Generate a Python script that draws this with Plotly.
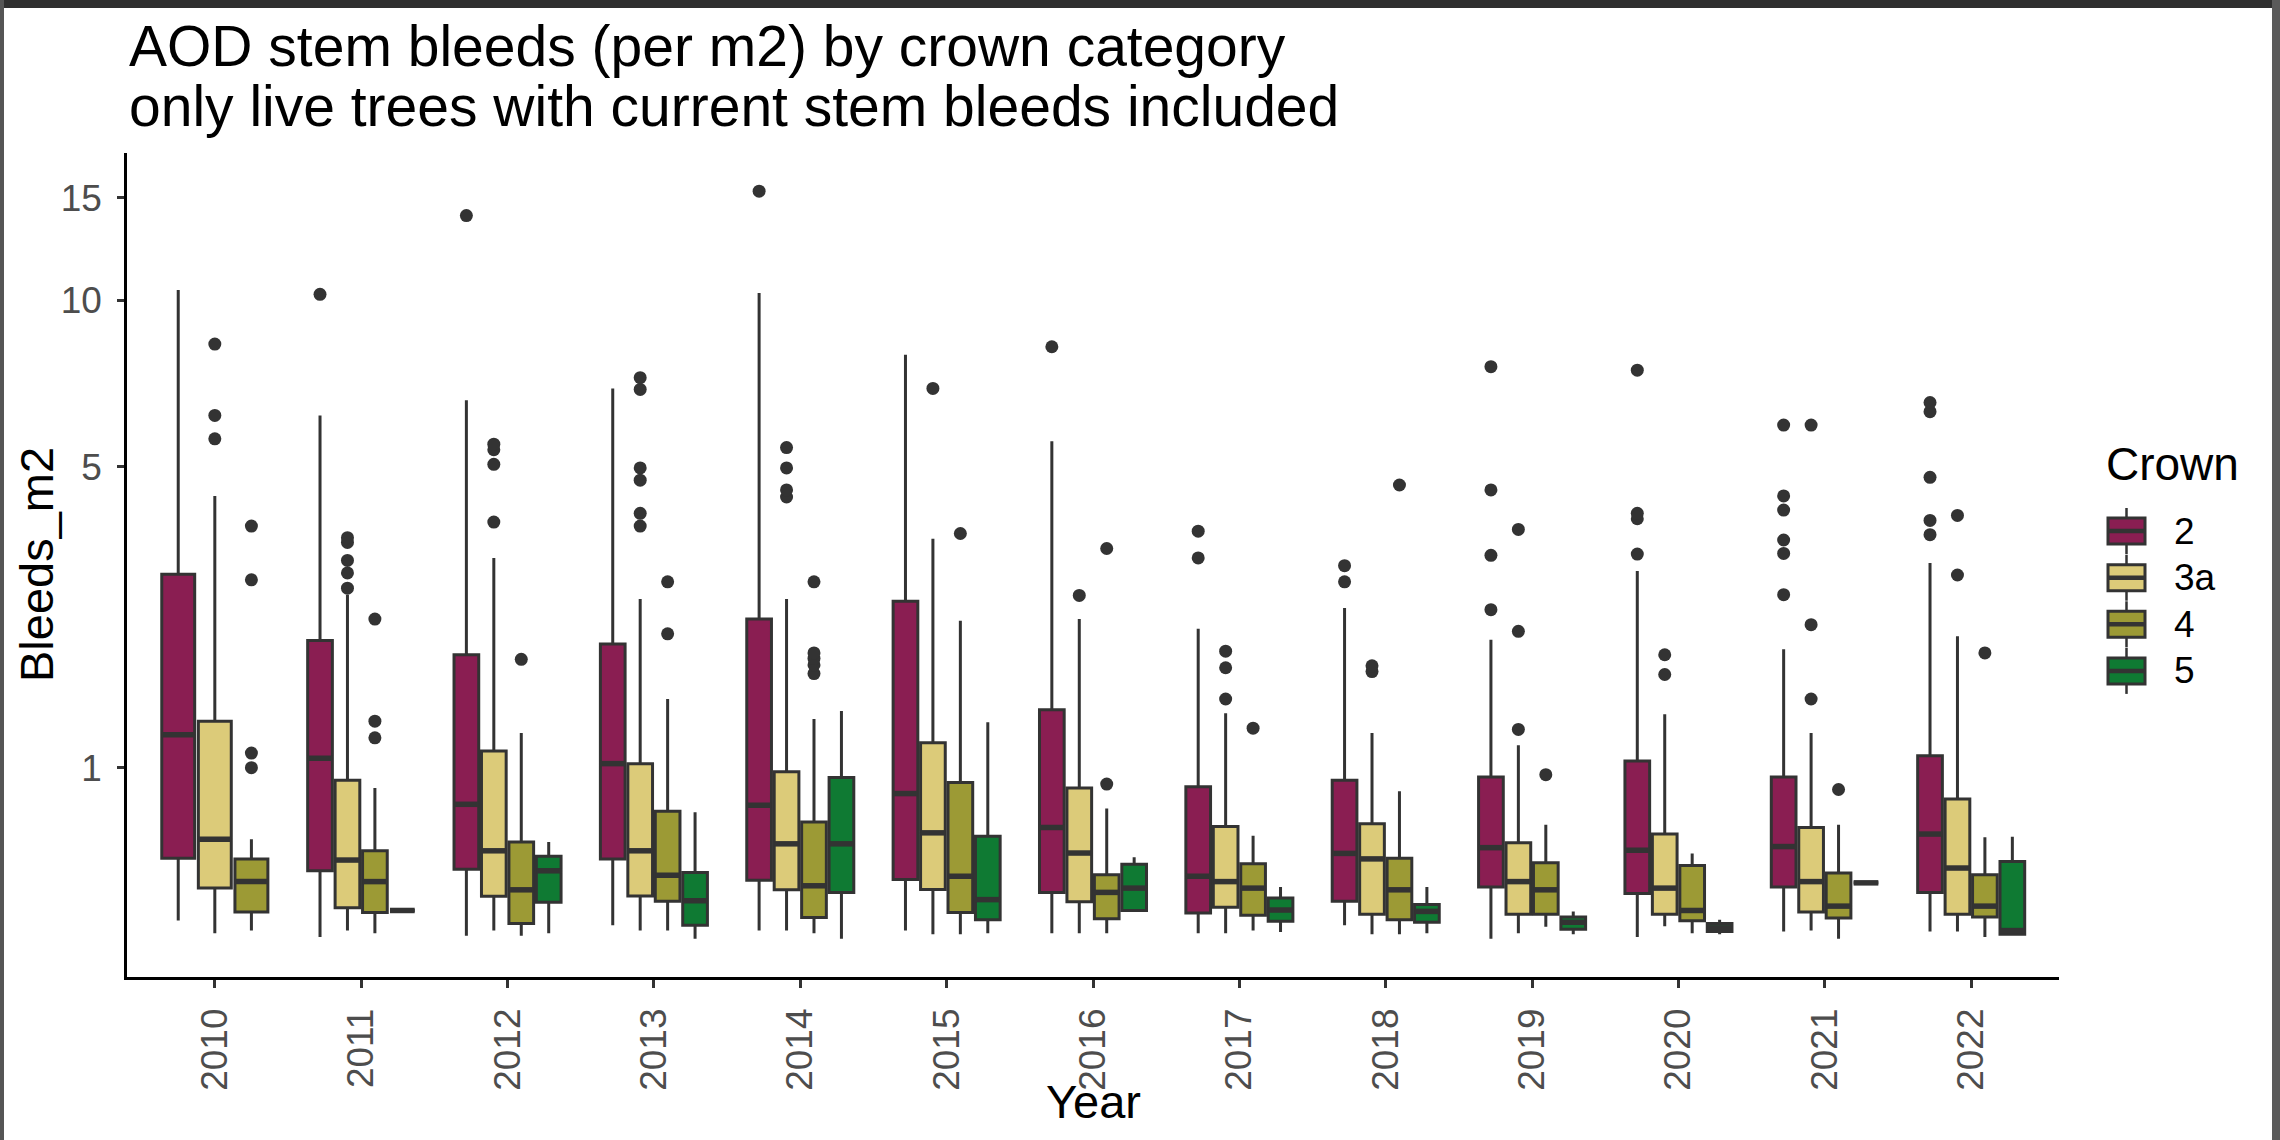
import numpy as np
import plotly.graph_objects as go

# ---------------- data (Bleeds per m2) ----------------
years = [2010, 2011, 2012, 2013, 2014, 2015, 2016, 2017, 2018, 2019, 2020, 2021, 2022]
crowns = ["2", "3a", "4", "5"]

# Crown 2
c2_low = [0.145, 0.078, 0.083, 0.126, 0.104, 0.104, 0.0935, 0.0935, 0.126, 0.072, 0.078, 0.10, 0.10]
c2_q1 = [0.437, 0.373, 0.381, 0.434, 0.327, 0.330, 0.269, 0.177, 0.229, 0.294, 0.264, 0.294, 0.269]
c2_med = [1.255, 1.07, 0.75, 1.03, 0.744, 0.82, 0.608, 0.346, 0.463, 0.494, 0.48, 0.50, 0.57]
c2_q3 = [3.05, 2.18, 2.02, 2.14, 2.44, 2.67, 1.47, 0.866, 0.91, 0.933, 1.05, 0.933, 1.09]
c2_up = [10.43, 6.23, 6.64, 6.98, 10.30, 8.02, 5.58, 2.32, 2.58, 2.19, 3.10, 2.08, 3.22]
c2_out = [[], [10.25], [13.99], [], [15.39], [], [8.29], [3.30, 3.74], [2.94, 3.18],
          [2.56, 3.34, 4.51, 7.64], [3.36, 3.96, 4.06, 7.53],
          [2.76, 3.37, 3.59, 4.12, 4.39, 5.98], [3.68, 3.93, 4.77, 6.33, 6.58]]

# Crown 3a
c3a_low = [0.0935, 0.104, 0.104, 0.104, 0.104, 0.089, 0.0935, 0.0935, 0.089, 0.0935, 0.122, 0.104, 0.10]
c3a_q1 = [0.289, 0.200, 0.251, 0.253, 0.281, 0.283, 0.226, 0.202, 0.172, 0.172, 0.172, 0.181, 0.172]
c3a_med = [0.54, 0.428, 0.477, 0.477, 0.515, 0.577, 0.465, 0.32, 0.434, 0.32, 0.289, 0.32, 0.387]
c3a_q3 = [1.37, 0.91, 1.125, 1.03, 0.97, 1.19, 0.858, 0.614, 0.63, 0.521, 0.57, 0.608, 0.785]
c3a_up = [4.39, 2.76, 3.30, 2.70, 2.70, 3.61, 2.44, 1.44, 1.27, 1.17, 1.43, 1.27, 2.23]
c3a_out = [[5.64, 6.23, 8.38], [2.85, 3.07, 3.26, 3.55, 3.63], [3.90, 5.05, 5.38, 5.51],
           [3.83, 4.06, 4.71, 4.97, 6.95, 7.30], [4.37, 4.51, 4.97, 5.43], [6.98], [2.75],
           [1.57, 1.88, 2.06], [1.84, 1.90], [1.30, 2.29, 3.77], [1.81, 2.02],
           [1.57, 2.37, 5.98], [3.04, 4.02]]

# Crown 4
c4_low = [0.104, 0.0935, 0.083, 0.104, 0.0935, 0.089, 0.0935, 0.104, 0.089, 0.12, 0.0935, 0.072, 0.078]
c4_q1 = [0.181, 0.179, 0.133, 0.229, 0.158, 0.179, 0.153, 0.167, 0.149, 0.172, 0.144, 0.156, 0.16]
c4_med = [0.32, 0.32, 0.281, 0.351, 0.30, 0.346, 0.269, 0.289, 0.281, 0.281, 0.188, 0.207, 0.207]
c4_q3 = [0.434, 0.477, 0.525, 0.706, 0.64, 0.895, 0.354, 0.409, 0.437, 0.414, 0.40, 0.362, 0.354]
c4_up = [0.54, 0.858, 1.27, 1.57, 1.39, 2.42, 0.724, 0.561, 0.836, 0.624, 0.463, 0.624, 0.552]
c4_out = [[1.00, 1.11, 2.97, 3.83], [1.23, 1.37, 2.44], [1.97], [2.26, 2.94],
          [1.82, 1.91, 1.98, 2.04, 2.94], [3.70], [0.884, 3.45], [1.31], [4.61], [0.95],
          [], [0.847], [2.04]]

# Crown 5 (no trees in 2010)
c5_low = [None, 0.188, 0.0935, 0.072, 0.072, 0.0935, 0.188, 0.098, 0.0935, 0.089, 0.089, 0.314, 0.089]
c5_q1 = [None, 0.188, 0.224, 0.126, 0.269, 0.149, 0.188, 0.142, 0.138, 0.109, 0.10, 0.314, 0.089]
c5_med = [None, 0.188, 0.373, 0.231, 0.515, 0.236, 0.289, 0.19, 0.184, 0.138, 0.115, 0.314, 0.104]
c5_q3 = [None, 0.188, 0.448, 0.365, 0.93, 0.558, 0.406, 0.243, 0.214, 0.16, 0.133, 0.314, 0.42]
c5_up = [None, 0.188, 0.525, 0.70, 1.46, 1.36, 0.442, 0.294, 0.294, 0.184, 0.149, 0.314, 0.555]
c5_out = [[], [], [], [], [], [], [], [], [], [], [], [], []]

y_tick_values = [1, 5, 10, 15]

# ---------------- styling ----------------
fills = {"2": "#8A1E52", "3a": "#DCCB79", "4": "#9C9A35", "5": "#0F7A33"}
edge = "#333333"
FONT = "Liberation Sans, Arial, sans-serif"

stats = {
    "2": (c2_low, c2_q1, c2_med, c2_q3, c2_up, c2_out),
    "3a": (c3a_low, c3a_q1, c3a_med, c3a_q3, c3a_up, c3a_out),
    "4": (c4_low, c4_q1, c4_med, c4_q3, c4_up, c4_out),
    "5": (c5_low, c5_q1, c5_med, c5_q3, c5_up, c5_out),
}

tf = np.log1p  # ggplot-like log(x+1) scale

W, H = 2280, 1140
ML, MR, MT, MB = 127, 221, 153, 163
PL, PR, PT, PB = ML, W - MR, MT, H - MB


def px_x(p):
    return (p - PL) / (PR - PL)


def px_y(p):
    return (PB - p) / (PB - PT)


# dodge positions (ggplot position_dodge2 style)
pos = {c: [None] * len(years) for c in crowns}
wid = {c: [None] * len(years) for c in crowns}
for i in range(len(years)):
    present = [c for c in crowns if stats[c][2][i] is not None]
    n = len(present)
    slot = 0.75 / n
    for k, c in enumerate(present):
        pos[c][i] = i - 0.375 + slot * (k + 0.5)
        wid[c][i] = 0.9 * slot

fig = go.Figure()

for c in crowns:
    low, q1, med, q3, up, out = stats[c]
    idx = [i for i in range(len(years)) if med[i] is not None]
    widths = sorted(set(round(wid[c][i], 6) for i in idx))
    for w in widths:
        sel = [i for i in idx if round(wid[c][i], 6) == w]
        fig.add_trace(go.Box(
            x=[pos[c][i] for i in sel],
            q1=[tf(q1[i]) for i in sel],
            median=[tf(med[i]) for i in sel],
            q3=[tf(q3[i]) for i in sel],
            lowerfence=[tf(low[i]) for i in sel],
            upperfence=[tf(up[i]) for i in sel],
            width=w,
            fillcolor=fills[c],
            line=dict(color=edge, width=3),
            whiskerwidth=0,
            boxpoints=False,
            name=c,
            showlegend=False,
            hoverinfo="skip",
        ))
    # thicker median bars
    mx, my = [], []
    for i in idx:
        mx += [pos[c][i] - wid[c][i] / 2, pos[c][i] + wid[c][i] / 2, None]
        my += [tf(med[i]), tf(med[i]), None]
    fig.add_trace(go.Scatter(x=mx, y=my, mode="lines", line=dict(color=edge, width=5.5),
                             showlegend=False, hoverinfo="skip"))
    # outliers
    ox, oy = [], []
    for i in idx:
        for v in out[i]:
            ox.append(pos[c][i])
            oy.append(tf(v))
    if ox:
        fig.add_trace(go.Scatter(x=ox, y=oy, mode="markers",
                                 marker=dict(color=edge, size=13, line=dict(width=0)),
                                 showlegend=False, hoverinfo="skip"))

y_lo = (957.7 - PB) / 274.1
y_hi = (957.7 - PT) / 274.1

fig.update_layout(
    width=W, height=H,
    margin=dict(l=ML, r=MR, t=MT, b=MB, pad=0),
    paper_bgcolor="white", plot_bgcolor="white",
    font=dict(family=FONT),
    showlegend=False,
    xaxis=dict(
        range=[-0.6, len(years) - 0.4],
        tickmode="array", tickvals=list(range(len(years))), ticktext=[str(y) for y in years],
        tickangle=-90, tickfont=dict(size=37, color="#4D4D4D", family=FONT),
        showline=True, linecolor="black", linewidth=2.5,
        ticks="outside", ticklen=8, tickwidth=2.5, tickcolor=edge,
        showgrid=False, zeroline=False, ticklabelstandoff=6,
    ),
    yaxis=dict(
        range=[y_lo, y_hi],
        tickmode="array", tickvals=[float(tf(v)) for v in y_tick_values],
        ticktext=[str(v) for v in y_tick_values],
        tickfont=dict(size=37, color="#4D4D4D", family=FONT),
        showline=True, linecolor="black", linewidth=2.5,
        ticks="outside", ticklen=7, tickwidth=2.5, tickcolor=edge,
        showgrid=False, zeroline=False, ticklabelstandoff=8,
    ),
)

ann = []
# title (two lines)
ann.append(dict(text="AOD stem bleeds (per m2) by crown category", xref="paper", yref="paper",
                x=px_x(PL), y=px_y(46.5), xanchor="left", yanchor="middle", showarrow=False,
                font=dict(size=57, color="black", family=FONT)))
ann.append(dict(text="only live trees with current stem bleeds included", xref="paper", yref="paper",
                x=px_x(PL), y=px_y(106.5), xanchor="left", yanchor="middle", showarrow=False,
                font=dict(size=57, color="black", family=FONT)))
# axis titles
ann.append(dict(text="Year", xref="paper", yref="paper", x=0.5, y=px_y(1101.5),
                xanchor="center", yanchor="middle", showarrow=False,
                font=dict(size=47, color="black", family=FONT)))
ann.append(dict(text="Bleeds_m2", xref="paper", yref="paper", x=px_x(36), y=px_y(565),
                xanchor="center", yanchor="middle", textangle=-90, showarrow=False,
                font=dict(size=47, color="black", family=FONT)))
# legend
ann.append(dict(text="Crown", xref="paper", yref="paper", x=px_x(2104), y=px_y(463.5),
                xanchor="left", yanchor="middle", showarrow=False,
                font=dict(size=46, color="black", family=FONT)))
shapes = []
leg_centers = [531, 577.7, 624.3, 670.9]
kx0, kx1 = 2108, 2145
kxc = (kx0 + kx1) / 2
for c, yc in zip(crowns, leg_centers):
    shapes.append(dict(type="line", xref="paper", yref="paper", x0=px_x(kxc), x1=px_x(kxc),
                       y0=px_y(yc - 23), y1=px_y(yc + 23), line=dict(color=edge, width=2.5)))
    shapes.append(dict(type="rect", xref="paper", yref="paper", x0=px_x(kx0), x1=px_x(kx1),
                       y0=px_y(yc - 13), y1=px_y(yc + 13), fillcolor=fills[c],
                       line=dict(color=edge, width=3)))
    shapes.append(dict(type="line", xref="paper", yref="paper", x0=px_x(kx0), x1=px_x(kx1),
                       y0=px_y(yc), y1=px_y(yc), line=dict(color=edge, width=4.5)))
    ann.append(dict(text=c, xref="paper", yref="paper", x=px_x(2172), y=px_y(yc),
                    xanchor="left", yanchor="middle", showarrow=False,
                    font=dict(size=37, color="black", family=FONT)))

# screenshot frame
shapes.append(dict(type="rect", xref="paper", yref="paper", x0=px_x(0), x1=px_x(W),
                   y0=px_y(0), y1=px_y(8), fillcolor="#2f2f2f", line=dict(width=0), layer="above"))
shapes.append(dict(type="rect", xref="paper", yref="paper", x0=px_x(0), x1=px_x(4),
                   y0=px_y(0), y1=px_y(H), fillcolor="#555555", line=dict(width=0), layer="above"))
shapes.append(dict(type="rect", xref="paper", yref="paper", x0=px_x(2272), x1=px_x(W),
                   y0=px_y(0), y1=px_y(H), fillcolor="#5a5a5a", line=dict(width=0), layer="above"))

fig.update_layout(annotations=ann, shapes=shapes)

fig.write_html("out.html")
